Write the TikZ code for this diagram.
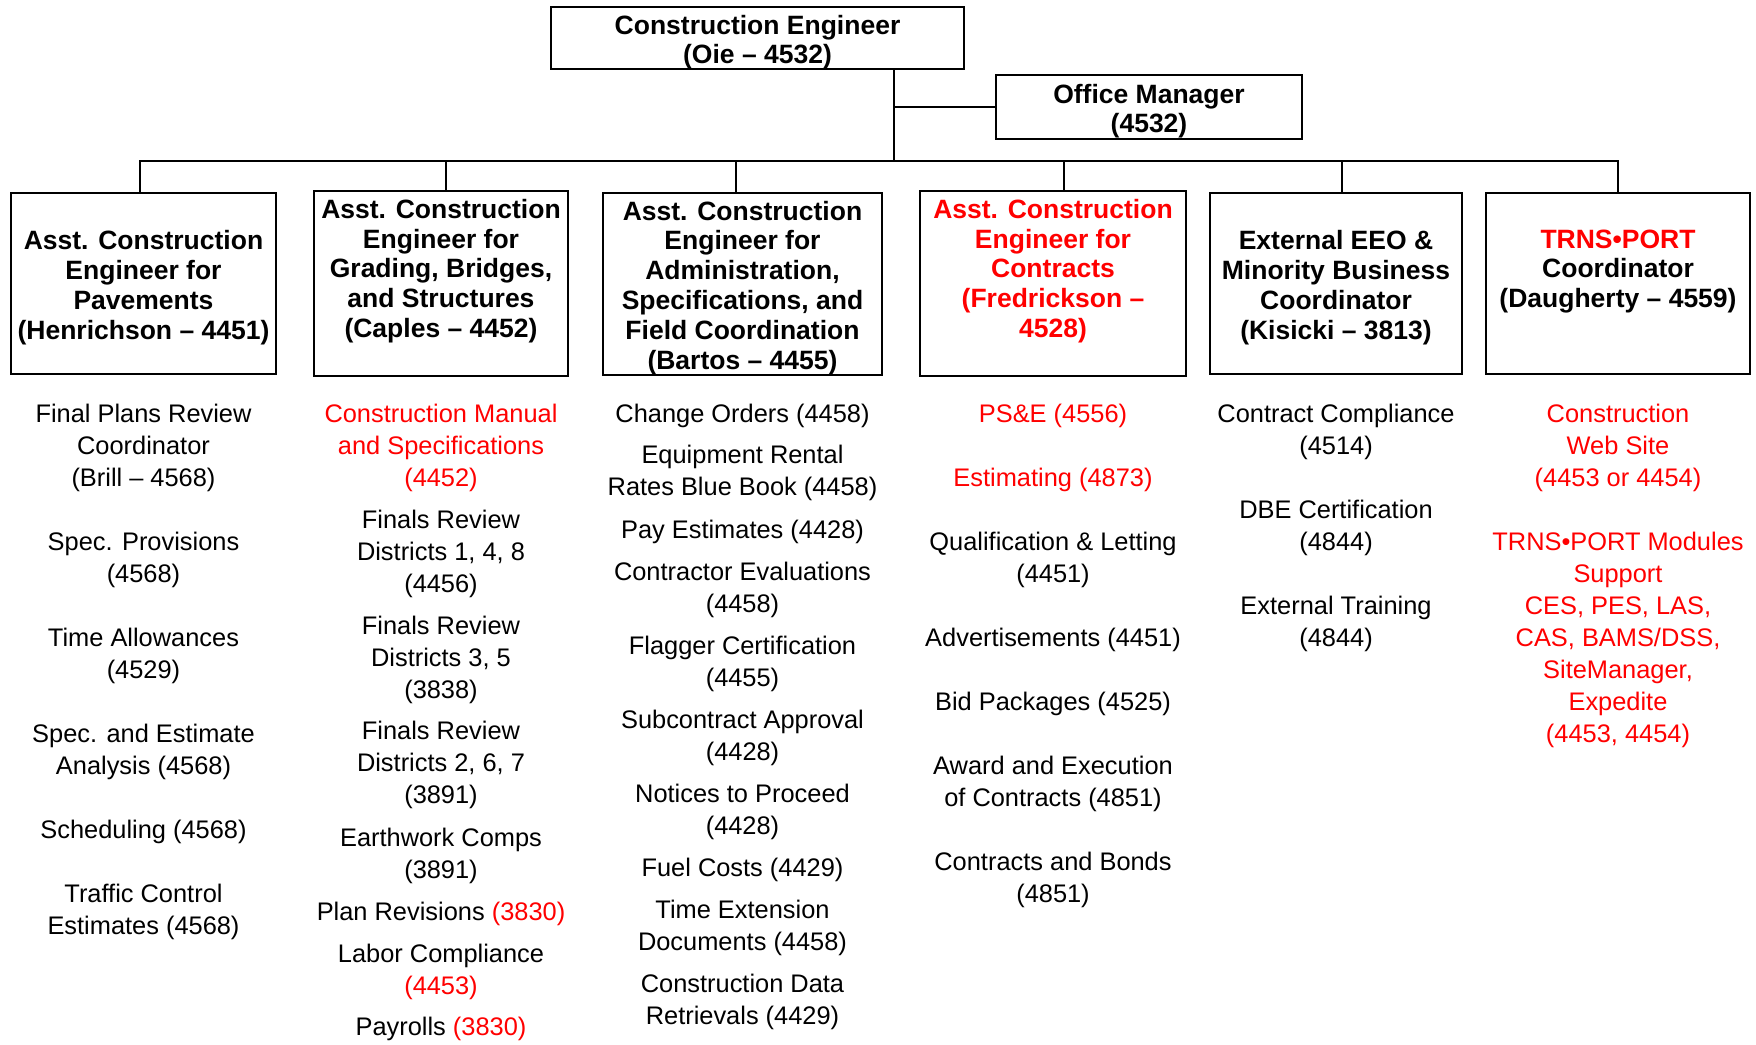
\documentclass[tikz,border=0pt]{standalone}
\usepackage{fontspec}
\setmainfont{Liberation Sans}
\newcommand\hdlift{\rule{0pt}{27.5pt}}
\tikzset{
  box/.style={draw=black, line width=2pt, inner sep=0pt, align=center,
    font=\fontsize{26.5}{29.8}\selectfont\bfseries},
  headbox/.style={box, minimum height=181pt},
  item/.style={align=center, inner sep=0pt, yshift=-0.5pt, font=\fontsize{25.4}{32}\selectfont},
  reditem/.style={item, text=red},
  conn/.style={line width=2pt, line cap=rect}
}
\begin{document}
\begin{tikzpicture}[x=1pt,y=-1pt]
\useasboundingbox (0,0) rectangle (1756,1044);

% top boxes
\node[box, minimum width=413pt, minimum height=62pt] (ce) at (757.5,38) {\hdlift Construction Engineer\\(Oie – 4532)};
\node[box, minimum width=306pt, minimum height=64pt] (om) at (1149,107) {\hdlift Office Manager\\(4532)};

% header boxes
\node[headbox, minimum width=265pt] (b1) at (143.5,283.5) {\hdlift Asst. Construction\\Engineer for\\Pavements\\(Henrichson – 4451)};
\node[headbox, minimum width=254pt] (b2) at (441,283.5) {\hdlift Asst. Construction\\Engineer for\\Grading, Bridges,\\and Structures\\(Caples – 4452)\\\strut};
\node[headbox, minimum width=279pt] (b3) at (742.5,283.5) {\hdlift Asst. Construction\\Engineer for\\Administration,\\Specifications, and\\Field Coordination\\(Bartos – 4455)};
\node[headbox, minimum width=266pt, text=red] (b4) at (1053,283.5) {\hdlift Asst. Construction\\Engineer for\\Contracts\\(Fredrickson –\\4528)\\\strut};
\node[headbox, minimum width=252pt] (b5) at (1336,283.5) {\hdlift External EEO \&\\Minority Business\\Coordinator\\(Kisicki – 3813)};
\node[headbox, minimum width=264pt] (b6) at (1618,283.5) {\hdlift\textcolor{red}{TRNS•PORT}\\Coordinator\\(Daugherty – 4559)\\\strut};

% connectors
\coordinate (j) at (894,161);
\coordinate (d1) at (140,161);
\coordinate (d2) at (446,161);
\coordinate (d3) at (736,161);
\coordinate (d4) at (1064,161);
\coordinate (d5) at (1342,161);
\coordinate (d6) at (1618,161);
\draw[conn] (ce.south -| j) -- (j);
\draw[conn] (j |- om.west) -- (om.west);
\draw[conn] (d1) -- (d6);
\draw[conn] (d1) -- (d1 |- b1.north);
\draw[conn] (d2) -- (d2 |- b2.north);
\draw[conn] (d3) -- (d3 |- b3.north);
\draw[conn] (d4) -- (d4 |- b4.north);
\draw[conn] (d5) -- (d5 |- b5.north);
\draw[conn] (d6) -- (d6 |- b6.north);

% column 1
\node[item] (c1a) at (143.5,447) {Final Plans Review\\Coordinator\\(Brill – 4568)};
\node[item] (c1b) at (143.5,559) {Spec. Provisions\\(4568)};
\node[item] (c1c) at (143.5,655) {Time Allowances\\(4529)};
\node[item] (c1d) at (143.5,751) {Spec. and Estimate\\Analysis (4568)};
\node[item] (c1e) at (143.5,831) {Scheduling (4568)};
\node[item] (c1f) at (143.5,911) {Traffic Control\\Estimates (4568)};

% column 2
\node[reditem] (c2a) at (441,447) {Construction Manual\\and Specifications\\(4452)};
\node[item] (c2b) at (441,553) {Finals Review\\Districts 1, 4, 8\\(4456)};
\node[item] (c2c) at (441,659) {Finals Review\\Districts 3, 5\\(3838)};
\node[item] (c2d) at (441,764) {Finals Review\\Districts 2, 6, 7\\(3891)};
\node[item] (c2e) at (441,855) {Earthwork Comps\\(3891)};
\node[item] (c2f) at (441,913) {Plan Revisions \textcolor{red}{(3830)}};
\node[item] (c2g) at (441,971) {Labor Compliance\\\textcolor{red}{(4453)}};
\node[item] (c2h) at (441,1028) {Payrolls \textcolor{red}{(3830)}};

% column 3
\node[item] (c3a) at (742.5,415) {Change Orders (4458)};
\node[item] (c3b) at (742.5,472) {Equipment Rental\\Rates Blue Book (4458)};
\node[item] (c3c) at (742.5,531) {Pay Estimates (4428)};
\node[item] (c3d) at (742.5,589) {Contractor Evaluations\\(4458)};
\node[item] (c3e) at (742.5,663) {Flagger Certification\\(4455)};
\node[item] (c3f) at (742.5,737) {Subcontract Approval\\(4428)};
\node[item] (c3g) at (742.5,811) {Notices to Proceed\\(4428)};
\node[item] (c3h) at (742.5,869) {Fuel Costs (4429)};
\node[item] (c3i) at (742.5,927) {Time Extension\\Documents (4458)};
\node[item] (c3j) at (742.5,1001) {Construction Data\\Retrievals (4429)};

% column 4
\node[reditem] (c4a) at (1053,415) {PS\&E (4556)};
\node[reditem] (c4b) at (1053,479) {Estimating (4873)};
\node[item] (c4c) at (1053,559) {Qualification \& Letting\\(4451)};
\node[item] (c4d) at (1053,639) {Advertisements (4451)};
\node[item] (c4e) at (1053,703) {Bid Packages (4525)};
\node[item] (c4f) at (1053,783) {Award and Execution\\of Contracts (4851)};
\node[item] (c4g) at (1053,879) {Contracts and Bonds\\(4851)};

% column 5
\node[item] (c5a) at (1336,431) {Contract Compliance\\(4514)};
\node[item] (c5b) at (1336,527) {DBE Certification\\(4844)};
\node[item] (c5c) at (1336,623) {External Training\\(4844)};

% column 6
\node[reditem] (c6a) at (1618,447) {Construction\\Web Site\\(4453 or 4454)};
\node[reditem] (c6b) at (1618,639) {TRNS•PORT Modules\\Support\\CES, PES, LAS,\\CAS, BAMS/DSS,\\SiteManager,\\Expedite\\(4453, 4454)};
\end{tikzpicture}
\end{document}
